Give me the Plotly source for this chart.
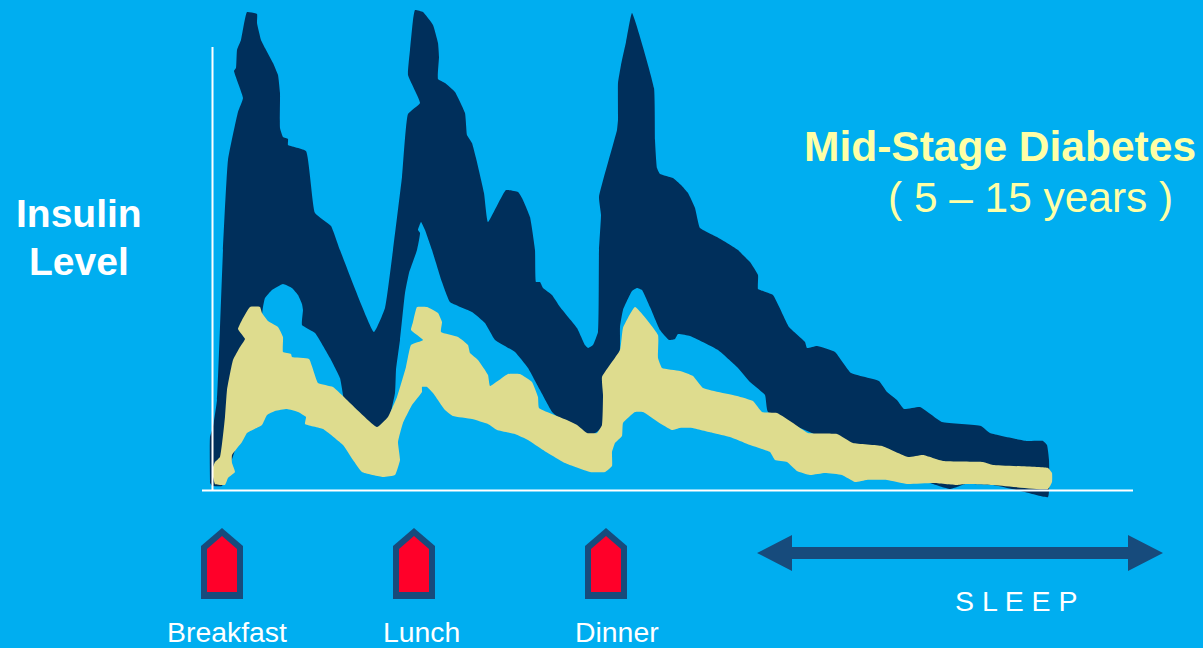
import plotly.graph_objects as go

BACKGROUND = "#00aef0"
NAVY = "#002f5b"
KHAKI = "#dedc8e"
WHITE = "#ffffff"
CREAM = "#ffffa6"
MARKER_EDGE = "#174b7c"
MARKER_RED = "#ff0029"

# Outline of the insulin-demand band, walked over its top and back under it.
demand_time = [
    210, 210, 213, 217, 223, 228, 238, 243, 234, 236, 237, 241, 247, 257, 257, 261, 265, 273, 278, 280,
    280, 283, 288, 288, 306, 315, 331, 340, 374, 385, 393, 402, 408, 420, 408, 410, 413, 415, 423, 433,
    438, 439, 438, 445, 455, 465, 467, 472, 476, 484, 488, 506, 518, 522, 530, 535, 536, 540, 543, 552,
    560, 577, 585, 588, 593, 598, 599, 601, 599, 617, 618, 618, 621, 626, 632, 654, 655, 657, 660, 673,
    681, 688, 695, 700, 717, 727, 738, 745, 750, 758, 758, 763, 773, 789, 805, 807, 817, 835, 851, 879, 887, 897, 904,
    920, 942, 981, 990, 1027, 1043, 1047, 1049, 1048, 1025, 993, 965, 957, 950, 942, 933, 900, 768, 765,
    750, 737, 718, 690, 678, 675, 669, 660, 650, 642, 637, 632, 623, 620, 620, 610, 590, 553, 540, 528,
    515, 495, 485, 472, 450, 442, 432, 425, 421, 418, 420, 417, 409, 405, 400, 396, 395, 385, 345, 343,
    340, 330, 315, 302, 303, 302, 298, 292, 283, 272, 265, 263, 255, 235, 222, 212,
]
demand_level = [
    7, 53, 63, 90, 240, 330, 378, 392, 419, 422, 440, 450, 478, 476, 467, 450, 442, 427, 415, 397,
    362, 353, 351, 345, 339, 277, 264, 240, 158, 182, 240, 313, 376, 387, 415, 440, 470, 480, 478, 465,
    447, 433, 411, 407, 398, 377, 355, 347, 332, 297, 268, 300, 298, 292, 273, 240, 208, 208, 202, 195,
    183, 162, 145, 142, 145, 158, 240, 275, 293, 360, 370, 407, 425, 448, 477, 402, 350, 322, 316, 312,
    305, 297, 282, 262, 253, 247, 240, 233, 228, 215, 201, 199, 195, 163, 148, 142, 144, 138, 117, 109, 98, 90, 81,
    83, 68, 64, 57, 49, 49, 45, 30, -7, -2, 5, 6, 3, 1, 3, 6, 20, 78, 95,
    108, 123, 140, 154, 156, 151, 150, 160, 183, 200, 202, 199, 180, 163, 142, 70, 54, 77, 100, 122,
    138, 150, 167, 178, 188, 208, 240, 260, 268, 260, 257, 240, 217, 197, 150, 120, 97, 60, 80, 95,
    112, 132, 157, 165, 180, 186, 195, 202, 206, 200, 192, 183, 120, 40, 4, 4,
]

# Outline of the band the pancreas still delivers.
response_time = [
    213, 215, 220, 225, 227, 233, 240, 245, 238, 242, 250, 260, 262, 268, 278, 283, 283, 291, 292, 309,
    318, 333, 347, 377, 388, 397, 406, 411, 423, 411, 413, 417, 427, 438, 442, 441, 458, 468, 470, 478,
    488, 490, 508, 520, 532, 538, 539, 567, 577, 587, 597, 602, 603, 602, 620, 623, 635, 658, 658, 662,
    680, 693, 703, 737, 753, 762, 777, 793, 808, 837, 853, 882, 908, 923, 943, 983, 993, 1048, 1052, 1052,
    1048, 993, 965, 957, 933, 907, 887, 867, 855, 842, 825, 810, 797, 787, 775, 770, 750, 730, 713, 692,
    680, 672, 658, 643, 635, 623, 622, 615, 612, 612, 605, 590, 565, 543, 528, 515, 497, 488, 472, 453,
    445, 433, 427, 422, 422, 412, 403, 398, 400, 395, 383, 362, 353, 343, 323, 305, 306, 298, 287, 275,
    267, 262, 247, 242, 232, 232, 235, 228, 225, 215, 213,
]
response_level = [
    23, 28, 33, 73, 100, 130, 143, 151, 161, 170, 183, 183, 177, 169, 163, 153, 138, 136, 133, 131,
    107, 103, 90, 63, 73, 93, 123, 145, 150, 160, 168, 183, 183, 177, 168, 158, 153, 145, 137, 130,
    115, 104, 116, 116, 108, 93, 82, 70, 65, 57, 57, 65, 95, 113, 140, 162, 183, 155, 132, 122,
    119, 114, 102, 94, 89, 78, 77, 67, 57, 56, 47, 44, 33, 35, 29, 28, 25, 22, 17, 8,
    1, 5, 6, 5, 7, 6, 10, 10, 8, 15, 17, 15, 19, 28, 30, 38, 45, 53, 57, 62,
    62, 60, 68, 78, 78, 67, 54, 47, 38, 24, 18, 18, 27, 40, 50, 56, 60, 66, 71, 74,
    80, 97, 103, 103, 98, 85, 67, 48, 30, 15, 13, 18, 30, 45, 61, 66, 73, 78, 81, 79,
    75, 65, 57, 48, 35, 27, 18, 12, 5, 6, 13,
]

meal_names = ["Breakfast", "Lunch", "Dinner"]
meal_times = [222, 414, 606]
meal_label_times = [227, 421, 617]

axis_start_time = 212.5
axis_end_time = 1133
axis_origin_time = 202
axis_top_level = 443

sleep_start = 757
sleep_end = 1163

fig = go.Figure()


def polygon(xs, ys, color, smooth=None):
    line = dict(color=color, width=0)
    if smooth:
        line.update(shape="spline", smoothing=smooth)
    fig.add_trace(go.Scatter(
        x=xs, y=ys, mode="lines", fill="toself", fillcolor=color,
        line=line, hoverinfo="skip", showlegend=False,
    ))


polygon(demand_time, demand_level, NAVY, smooth=0.35)
polygon(response_time, response_level, KHAKI, smooth=0.35)

# Time and level axes are drawn over the bands.
for xs, ys in (
    ([axis_start_time, axis_start_time], [0, axis_top_level]),
    ([axis_origin_time, axis_end_time], [-0.5, -0.5]),
):
    fig.add_trace(go.Scatter(
        x=xs, y=ys, mode="lines", line=dict(color=WHITE, width=2),
        hoverinfo="skip", showlegend=False,
    ))

# House-shaped meal markers below the time axis.
for t in meal_times:
    polygon([t - 21, t - 21, t, t + 21, t + 21, t - 21], [-109, -56, -38, -56, -109, -109], MARKER_EDGE)
    polygon([t - 15, t - 15, t, t + 15, t + 15, t - 15], [-102, -59, -46, -59, -102, -102], MARKER_RED)

# Double-headed sleep arrow.
polygon(
    [sleep_start, sleep_start + 35, sleep_start + 35, sleep_end - 35, sleep_end - 35, sleep_end,
     sleep_end - 35, sleep_end - 35, sleep_start + 35, sleep_start + 35, sleep_start],
    [-63, -45, -57, -57, -45, -63, -81, -69, -69, -81, -63],
    MARKER_EDGE,
)


def label(x, y, text, size, color, bold=False):
    fig.add_annotation(
        x=x, y=y, xref="x", yref="y", text=f"<b>{text}</b>" if bold else text, showarrow=False,
        xanchor="center", yanchor="middle",
        font=dict(family="Liberation Sans", size=size, color=color),
    )


label(78.5, 277, "Insulin", 39, WHITE, bold=True)
label(78.5, 229, "Level", 39, WHITE, bold=True)
label(1000, 344, "Mid-Stage Diabetes", 42.5, CREAM, bold=True)
label(1030, 293, "( 5 – 15 years )", 42.4, CREAM)
for name, t in zip(meal_names, meal_label_times):
    label(t, -142, name, 28.4, WHITE)
label(1016.5, -111, "S L E E P", 28.5, WHITE)

fig.update_layout(
    width=1203, height=648, autosize=False,
    margin=dict(l=0, r=0, t=0, b=0),
    paper_bgcolor=BACKGROUND, plot_bgcolor=BACKGROUND,
    showlegend=False,
    xaxis=dict(range=[0, 1203], visible=False, fixedrange=True),
    yaxis=dict(range=[-158, 490], visible=False, fixedrange=True),
)

fig.write_html("out.html", config={"displayModeBar": False})
